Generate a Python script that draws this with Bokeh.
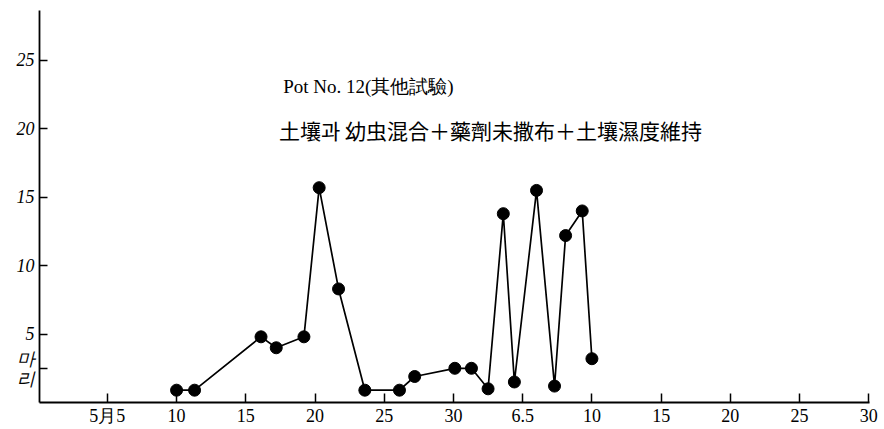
from bokeh.plotting import figure
from bokeh.models import Range1d, FixedTicker, Label
from bokeh.embed import file_html
from bokeh.resources import INLINE

# x positions: day index (May d -> d, June d -> 30 + d)
days = [10, 11.3, 16.1, 17.2, 19.2, 20.3, 21.7, 23.6, 26.1, 27.2,
        30.1, 31.3, 32.5, 33.6, 34.4, 36.0, 37.3, 38.1, 39.3, 40.0]
counts = [0.9, 0.9, 4.8, 4.0, 4.8, 15.7, 8.3, 0.9, 0.9, 1.9,
          2.5, 2.5, 1.0, 13.8, 1.5, 15.5, 1.2, 12.2, 14.0, 3.2]

x_ticks = [5, 10, 15, 20, 25, 30, 35, 40, 45, 50, 55, 60]
x_tick_labels = ["5月5", "10", "15", "20", "25", "30", "6.5", "10", "15", "20", "25", "30"]
y_ticks = [2.45, 5, 10, 15, 20, 25]
y_tick_labels = ["마\n리", "5", "10", "15", "20", "25"]

title1 = "Pot No. 12(其他試驗)"
title2 = "土壤과 幼虫混合＋藥劑未撒布＋土壤濕度維持"

SERIF = "Liberation Serif"
CJK = "Noto Sans CJK KR"

p = figure(output_backend="svg", toolbar_location=None,
           frame_width=830, frame_height=392,
           min_border_left=39, min_border_right=15, min_border_top=10, min_border_bottom=27,
           x_range=Range1d(0.1, 60.05), y_range=Range1d(0, 28.65),
           background_fill_color="white", border_fill_color="white")
p.outline_line_color = None
p.grid.visible = False

p.line(days, counts, line_color="black", line_width=1.7)
p.scatter(days, counts, size=12, fill_color="black", line_color="black")

p.xaxis.ticker = FixedTicker(ticks=x_ticks)
p.xaxis.major_label_overrides = {t: l for t, l in zip(x_ticks, x_tick_labels)}
p.xaxis.major_tick_in = 9
p.xaxis.major_tick_out = 0
p.xaxis.minor_tick_line_color = None
p.xaxis.axis_line_width = 2.2
p.xaxis.major_tick_line_width = 1.5
p.xaxis.major_label_text_font = SERIF
p.xaxis.major_label_text_font_size = "18px"
p.xaxis.major_label_standoff = 3
p.xaxis.major_label_text_color = "black"

p.yaxis.ticker = FixedTicker(ticks=y_ticks)
p.yaxis.major_label_overrides = {t: l for t, l in zip(y_ticks, y_tick_labels)}
p.yaxis.major_tick_in = 8
p.yaxis.major_tick_out = 0
p.yaxis.minor_tick_line_color = None
p.yaxis.axis_line_width = 1.8
p.yaxis.major_tick_line_width = 1.5
p.yaxis.major_label_text_font = SERIF
p.yaxis.major_label_text_font_style = "italic"
p.yaxis.major_label_text_font_size = "18px"
p.yaxis.major_label_text_line_height = 1.0
p.yaxis.major_label_standoff = 5
p.yaxis.major_label_text_color = "black"

p.add_layout(Label(x=17.7, y=23.1, text=title1, text_font=SERIF, text_font_size="19px",
                   text_baseline="middle", text_color="black"))
p.add_layout(Label(x=17.4, y=19.9, text=title2, text_font=CJK, text_font_size="21px",
                   text_baseline="middle", text_color="black"))

open("out.html", "w").write(file_html(p, INLINE))
